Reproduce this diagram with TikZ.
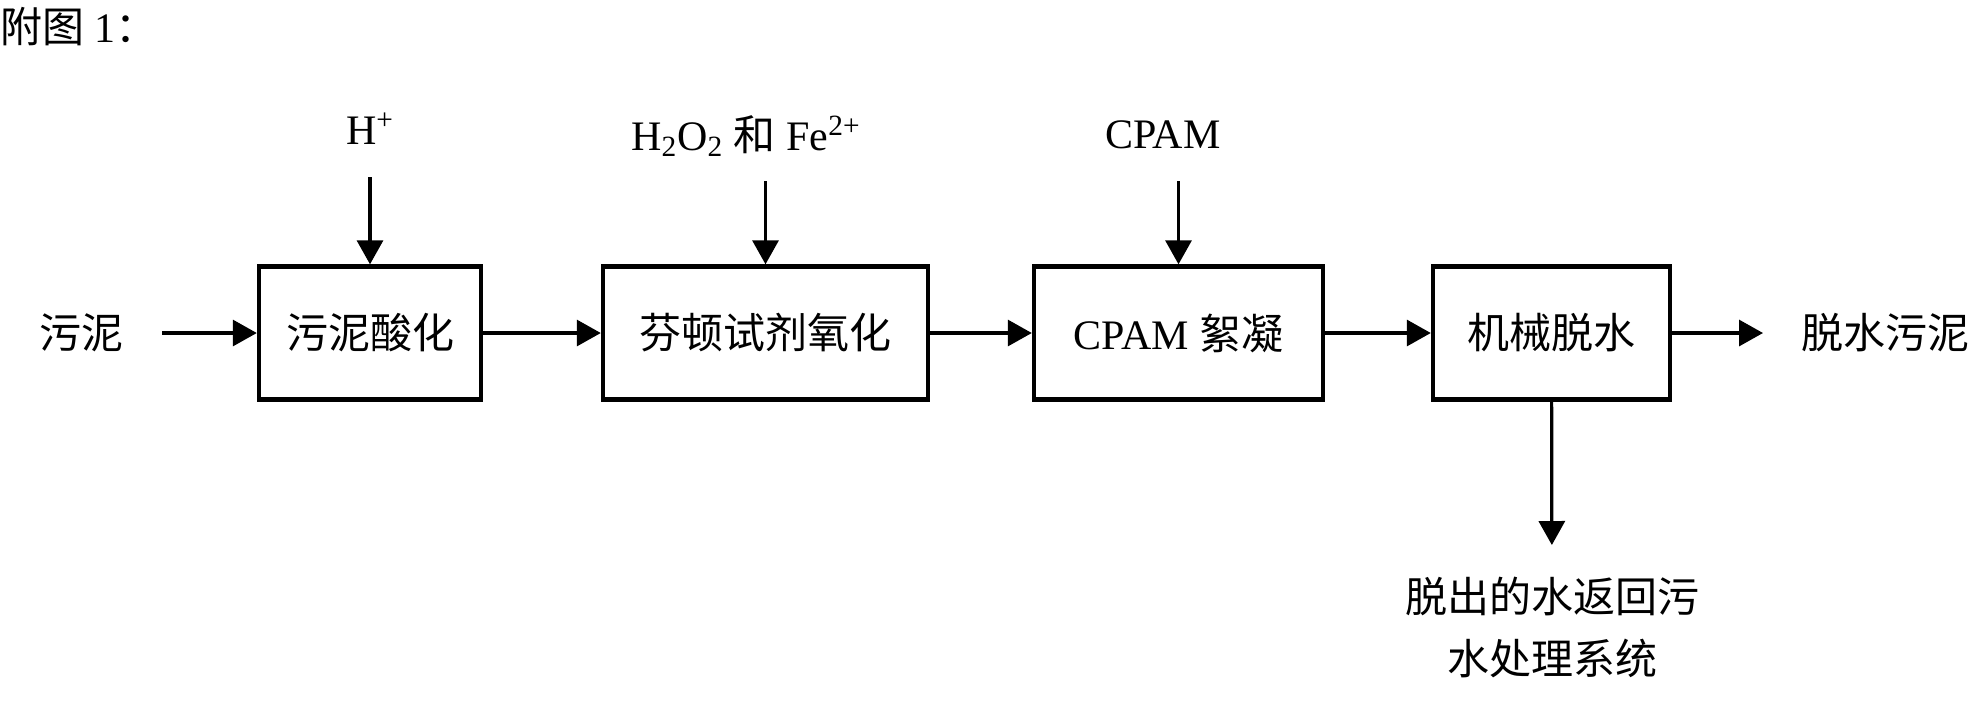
\documentclass[tikz,border=0pt]{standalone}
\usepackage{fontspec}
\setmainfont{Liberation Serif}
\newfontfamily\cjk{Noto Sans CJK SC}
\usetikzlibrary{arrows.meta}
\tikzset{
  stage/.style={draw, line width=2.2pt, minimum height=66.5pt, inner sep=0pt},
  lbl/.style={inner xsep=19pt, inner ysep=16pt, align=center},
  arr/.style={-{Triangle[length=12pt,width=13pt]}, line width=1.6pt},
}
\begin{document}
\begin{tikzpicture}[x=0.5pt,y=-0.5pt,font=\fontsize{21pt}{31pt}\selectfont]
  \useasboundingbox (0,0) rectangle (1979,725);
  \node[anchor=north west, inner sep=0pt] (title) at (0,7) {{\cjk 附图} 1{\cjk ：}};
  % process stages
  \node[stage, minimum width=111pt] (acid) at (370,333) {\cjk 污泥酸化};
  \node[stage, minimum width=162.5pt] (fenton) at (765.5,333) {\cjk 芬顿试剂氧化};
  \node[stage, minimum width=144.5pt] (floc) at (1178.5,333) {CPAM {\cjk 絮凝}};
  \node[stage, minimum width=118.5pt] (dewater) at (1551.5,333) {\cjk 机械脱水};
  % inputs and outputs
  \node[lbl, anchor=east] (sludge) at (162,333) {\cjk 污泥};
  \node[lbl, anchor=south] (hplus) at (370,177) {H\textsuperscript{+}};
  \node[lbl, anchor=south, inner ysep=12pt] (reagent) at (746,181) {H\textsubscript{2}O\textsubscript{2} {\cjk 和} Fe\textsuperscript{2+}};
  \node[lbl, anchor=south] (cpam) at (1163,181) {CPAM};
  \node[lbl, anchor=west] (cake) at (1763,333) {\cjk 脱水污泥};
  \node[lbl, anchor=north] (water) at (1552,545) {\cjk 脱出的水返回污\\\cjk 水处理系统};
  % flow
  \draw[arr] (sludge) -- (acid);
  \draw[arr] (acid) -- (fenton);
  \draw[arr] (fenton) -- (floc);
  \draw[arr] (floc) -- (dewater);
  \draw[arr] (dewater) -- (cake);
  \draw[arr] (dewater) -- (water);
  \draw[arr] (hplus) -- (acid);
  \draw[arr] (reagent.south -| fenton.north) -- (fenton.north);
  \draw[arr] (cpam.south -| floc.north) -- (floc.north);
\end{tikzpicture}
\end{document}
